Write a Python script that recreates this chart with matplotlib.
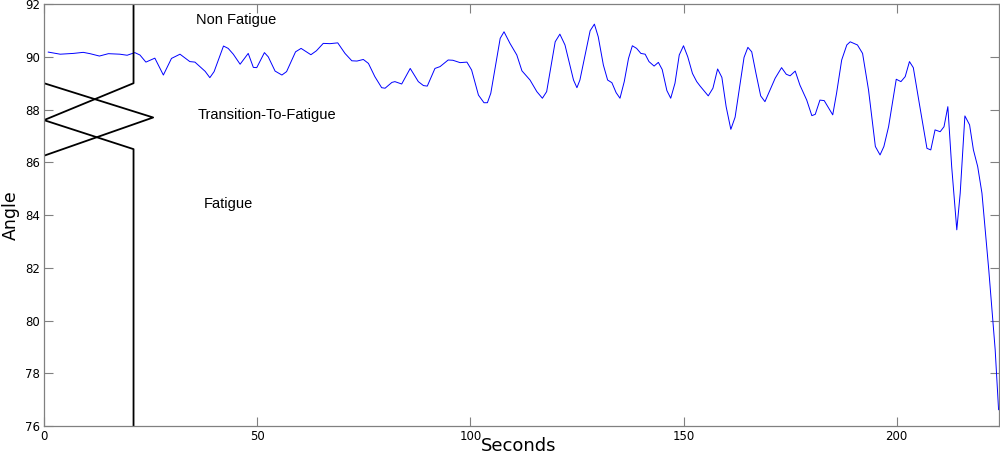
import matplotlib
matplotlib.use("Agg")
import matplotlib.pyplot as plt

# ── blue angle trace (seconds, degrees) ──
secs = [1.0, 3.8, 6.9, 9.2, 10.8, 13.0, 15.1, 17.8, 19.5, 21.3, 22.5, 23.9,
        26.0, 28.0, 29.9, 31.9, 34.2, 35.4, 37.8, 38.9, 39.9, 42.1, 43.2, 44.4,
        46.0, 47.9, 49.1, 49.9, 51.7, 52.6, 54.2, 55.8, 56.9, 59.0, 60.3, 62.6,
        63.9, 65.5, 67.1, 68.9, 70.6, 72.2, 73.4, 74.9, 76.1, 77.6, 79.2, 80.0,
        81.6, 82.3, 83.9, 85.9, 87.8, 89.0, 89.9, 91.7, 92.9, 94.8, 95.9, 97.6,
        99.2, 100.3, 101.9, 103.2, 104.0, 104.8, 107.0, 107.9, 109.3, 110.9,
        112.1, 114.0, 115.6, 116.9, 117.9, 119.9, 121.0, 122.2, 124.2, 125.0,
        125.7, 128.1, 129.1, 130.0, 131.2, 132.2, 133.2, 134.2, 135.1, 136.1,
        137.1, 138.0, 139.0, 140.0, 141.0, 141.9, 143.1, 144.1, 145.0, 146.1,
        147.0, 148.0, 149.0, 150.0, 151.0, 152.1, 153.1, 153.9, 155.8, 156.9,
        158.0, 159.0, 160.0, 161.1, 162.1, 163.3, 164.2, 165.1, 166.0, 167.0,
        168.1, 169.1, 170.3, 171.5, 173.0, 174.1, 175.0, 176.2, 177.3, 178.9,
        180.1, 180.9, 182.0, 183.0, 185.0, 185.9, 187.1, 188.3, 189.1, 190.8,
        192.0, 193.4, 195.0, 196.1, 197.0, 198.1, 199.9, 201.0, 202.0, 203.0,
        203.9, 205.3, 207.1, 208.0, 209.0, 210.2, 211.1, 212.0, 212.9, 214.1,
        214.9, 216.0, 217.1, 218.0, 219.0, 220.0, 221.6, 223.1, 223.9]
angle = [90.18, 90.10, 90.13, 90.17, 90.12, 90.03, 90.12, 90.10, 90.06, 90.16,
         90.07, 89.80, 89.95, 89.31, 89.94, 90.10, 89.82, 89.80, 89.45, 89.21,
         89.44, 90.41, 90.32, 90.10, 89.72, 90.13, 89.60, 89.59, 90.16, 90.00,
         89.46, 89.31, 89.44, 90.19, 90.32, 90.08, 90.23, 90.51, 90.50, 90.53,
         90.13, 89.85, 89.84, 89.90, 89.75, 89.25, 88.83, 88.81, 89.03, 89.06,
         88.97, 89.56, 89.06, 88.91, 88.89, 89.56, 89.63, 89.88, 89.87, 89.78,
         89.80, 89.50, 88.55, 88.26, 88.26, 88.62, 90.70, 90.95, 90.51, 90.07,
         89.47, 89.12, 88.68, 88.43, 88.68, 90.57, 90.86, 90.45, 89.12, 88.83,
         89.12, 90.99, 91.24, 90.76, 89.69, 89.12, 89.02, 88.64, 88.43, 89.06,
         89.94, 90.42, 90.32, 90.13, 90.10, 89.82, 89.65, 89.79, 89.52, 88.72,
         88.43, 89.00, 90.07, 90.42, 90.00, 89.37, 89.06, 88.89, 88.52, 88.81,
         89.54, 89.22, 88.11, 87.25, 87.71, 89.00, 89.98, 90.36, 90.19, 89.37,
         88.52, 88.30, 88.74, 89.19, 89.59, 89.34, 89.28, 89.46, 88.93, 88.36,
         87.77, 87.82, 88.36, 88.34, 87.80, 88.62, 89.88, 90.45, 90.57, 90.45,
         90.13, 88.74, 86.60, 86.28, 86.60, 87.35, 89.15, 89.06, 89.25, 89.82,
         89.59, 88.24, 86.53, 86.47, 87.23, 87.16, 87.35, 88.11, 85.84, 83.44,
         84.83, 87.76, 87.42, 86.47, 85.84, 84.83, 81.92, 78.90, 76.62]

# ── membership functions drawn sideways on the left ──
nonfat_x = [21, 21, 0]
nonfat_y = [92, 89, 87.6]
trans_x = [0, 25.6, 0]
trans_y = [89, 87.7, 86.25]
fat_x = [0, 21, 21]
fat_y = [87.6, 86.5, 76]

labels = ["Non Fatigue", "Transition-To-Fatigue", "Fatigue"]
label_x = [35.6, 36.1, 37.5]
label_y = [91.39, 87.8, 84.42]

x_ticks = [0, 50, 100, 150, 200]
y_ticks = [76, 78, 80, 82, 84, 86, 88, 90, 92]

fig = plt.figure(figsize=(10, 4.55), dpi=100)
ax = fig.add_axes([0.044, 0.0637, 0.955, 0.9273])

ax.plot(secs, angle, color="#0000ff", lw=0.7)
for mx, my in [(nonfat_x, nonfat_y), (trans_x, trans_y), (fat_x, fat_y)]:
    ax.plot(mx, my, color="black", lw=1.3)

for txt, tx, ty in zip(labels, label_x, label_y):
    ax.text(tx, ty, txt, fontsize=10.5, family="Liberation Sans",
            ha="left", va="center")

ax.set_xlim(0, 224)
ax.set_ylim(76, 92)
ax.set_xticks(x_ticks)
ax.set_yticks(y_ticks)
ax.tick_params(direction="in", length=6.5, width=0.8, color="#808080",
               top=True, right=True, labelsize=8.5, pad=3)
for s in ax.spines.values():
    s.set_color("#808080")
    s.set_linewidth(0.9)

# axis titles placed in figure coords so "Seconds" sits flush at the bottom
fig.text(0.519, 0.0, "Seconds", fontsize=13, ha="center", va="bottom")
fig.text(0.011, 0.527, "Angle", fontsize=12.5, rotation=90,
         ha="center", va="center",
         family=["Liberation Sans Narrow", "DejaVu Sans"])

fig.savefig("out.png", dpi=100)
